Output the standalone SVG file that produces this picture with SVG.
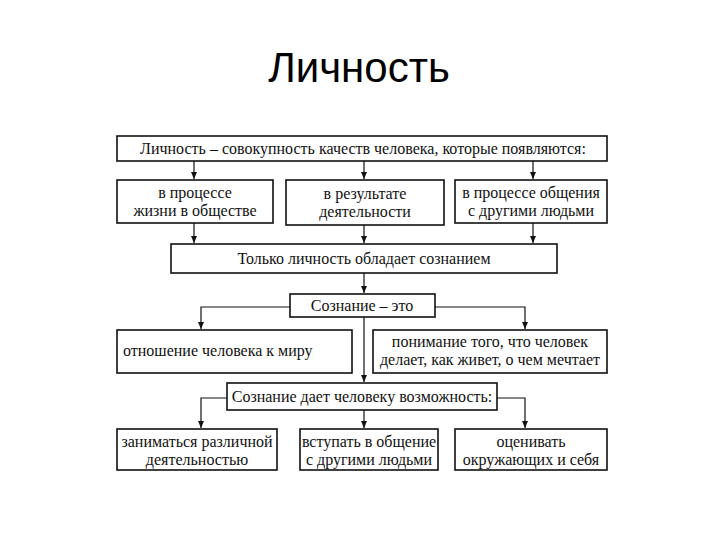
<svg xmlns="http://www.w3.org/2000/svg" width="720" height="540" viewBox="0 0 720 540">
<defs>
<marker id="ah" markerWidth="8" markerHeight="8" refX="7" refY="3" orient="auto" markerUnits="userSpaceOnUse">
<path d="M0,0 L7,3 L0,6 Z" fill="#111"/>
</marker>
<style>
.box{fill:#fff;stroke:#111;stroke-width:1.6}
.t{font-family:"Liberation Serif","DejaVu Serif",serif;font-size:16px;fill:#111;text-anchor:middle}
.c{fill:none;stroke:#111;stroke-width:1.2;marker-end:url(#ah)}
.title{font-family:"Liberation Sans",Arial,sans-serif;font-size:42px;fill:#000;text-anchor:middle}
</style>
</defs>
<rect width="720" height="540" fill="#fff"/>
<text class="title" x="359" y="82">Личность</text>
<g id="connectors">
<path class="c" d="M194,161 V179"/>
<path class="c" d="M364,161 V179"/>
<path class="c" d="M533,161 V179"/>
<path class="c" d="M194,223 V243"/>
<path class="c" d="M364,225 V243"/>
<path class="c" d="M533,223 V243"/>
<path class="c" d="M364,273 V293"/>
<path class="c" d="M290,307 H201 V329"/>
<path class="c" d="M435,307 H525 V329"/>
<path class="c" d="M364,317 V382"/>
<path class="c" d="M227,398 H201 V428"/>
<path class="c" d="M497,398 H525 V428"/>
<path class="c" d="M364,410 V428"/>
</g>
<g id="n1"><rect class="box" x="117" y="136" width="490" height="25"/><text class="t" x="363" y="154">Личность – совокупность качеств человека, которые появляются:</text></g>
<g id="n2"><rect class="box" x="117" y="180" width="156" height="43"/><text class="t" x="195" y="198">в процессе</text><text class="t" x="195" y="216">жизни в обществе</text></g>
<g id="n3"><rect class="box" x="286" y="180" width="158" height="45"/><text class="t" x="365" y="199">в результате</text><text class="t" x="365" y="217">деятельности</text></g>
<g id="n4"><rect class="box" x="455" y="180" width="152" height="43"/><text class="t" x="531" y="198">в процессе общения</text><text class="t" x="531" y="216">с другими людьми</text></g>
<g id="n5"><rect class="box" x="171" y="244" width="386" height="29"/><text class="t" x="364" y="264">Только личность обладает сознанием</text></g>
<g id="n6"><rect class="box" x="290" y="294" width="145" height="23"/><text class="t" x="362" y="311">Сознание – это</text></g>
<g id="n7"><rect class="box" x="117" y="330" width="235" height="43"/><text class="t" x="123" y="356" style="text-anchor:start">отношение человека к миру</text></g>
<g id="n8"><rect class="box" x="373" y="330" width="234" height="43"/><text class="t" x="490" y="347">понимание того, что человек</text><text class="t" x="490" y="365">делает, как живет, о чем мечтает</text></g>
<g id="n9"><rect class="box" x="227" y="383" width="270" height="27"/><text class="t" x="362" y="402">Сознание дает человеку возможность:</text></g>
<g id="n10"><rect class="box" x="117" y="429" width="160" height="41"/><text class="t" x="197" y="447">заниматься различной</text><text class="t" x="197" y="465">деятельностью</text></g>
<g id="n11"><rect class="box" x="300" y="429" width="138" height="41"/><text class="t" x="369" y="447">вступать в общение</text><text class="t" x="369" y="465">с другими людьми</text></g>
<g id="n12"><rect class="box" x="455" y="429" width="152" height="41"/><text class="t" x="531" y="447">оценивать</text><text class="t" x="531" y="465">окружающих и себя</text></g>
</svg>
